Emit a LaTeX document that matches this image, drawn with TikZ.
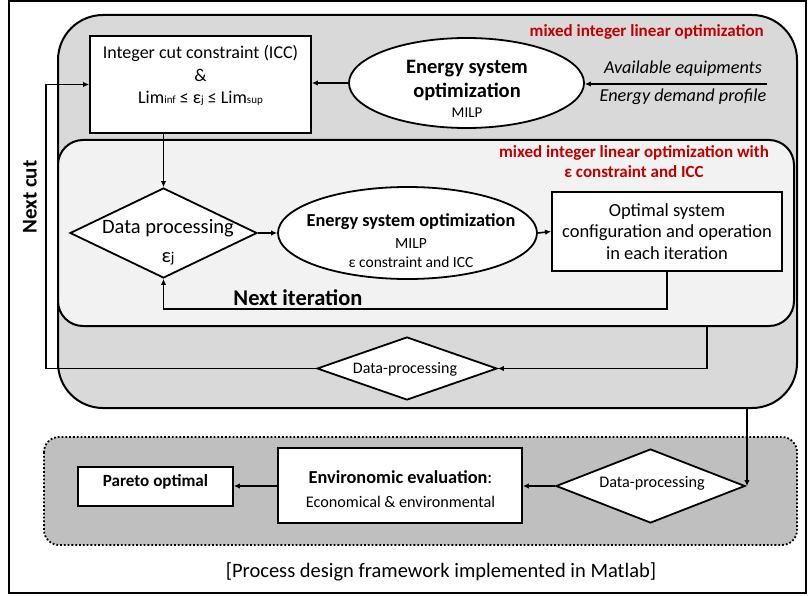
\documentclass[tikz,border=0pt]{standalone}
\usepackage{fontspec}
\setmainfont{Carlito}
\usetikzlibrary{shapes.geometric,arrows.meta}
\definecolor{redt}{HTML}{C00000}
\definecolor{gone}{HTML}{D9D9D9}
\definecolor{gtwo}{HTML}{F2F2F2}
\definecolor{gthree}{HTML}{BFBFBF}
\newcommand{\fs}[2]{\fontsize{#1}{#2}\selectfont}
\begin{document}
\begin{tikzpicture}[x=1pt,y=-1pt,
  frame/.style={line width=2pt},
  wbox/.style={draw, line width=1.8pt, fill=white, inner sep=0pt},
  wdia/.style={diamond, draw, line width=1.8pt, fill=white, inner sep=0pt},
  well/.style={ellipse, draw, line width=1.8pt, fill=white, inner sep=0pt},
  txt/.style={align=center, inner sep=0pt},
  arr/.style={-{Latex[length=6pt,width=5.5pt]}, line width=1.6pt}]
\useasboundingbox (0,0) rectangle (808,596);
\draw[frame] (9,1) rectangle (806,593);
% big containers
\draw[frame, fill=gone, rounded corners=45pt] (58,15) rectangle (797,408);
\draw[frame, fill=gtwo, rounded corners=25pt] (58,140) rectangle (794,326);
\draw[line width=1.8pt, dotted, fill=gthree, rounded corners=15pt] (44,437) rectangle (797,545);
% top level
\node[wbox, minimum width=221pt, minimum height=97pt] (icc) at (200.5,84.5) {};
\node[txt, font=\fs{18}{22.5}] (icct) at (200.5,75.5) {Integer cut constraint (ICC)\\ \&\\ Lim{\fs{11}{13}inf} ≤ ε{\fs{11}{13}j} ≤ Lim{\fs{11}{13}sup}};
\node[well, minimum width=235pt, minimum height=90pt] (e1) at (466.5,83) {};
\node[txt, font=\fs{20.5}{24}\bfseries] (e1t) at (467,80) {Energy system\\ optimization};
\node[txt, font=\fs{15}{18}] (e1m) at (467,113) {MILP};
\coordinate (inp) at (767,84);
\node[txt, font=\fs{18.2}{21}\itshape] (ae) at (683,69) {Available equipments};
\node[txt, font=\fs{18.2}{21}\itshape] (ed) at (683,97) {Energy demand profile};
\draw[arr] (inp) -- (e1.east |- inp);
\draw[arr] (e1.west) -- (icc.east |- e1.west);
\node[txt, font=\fs{17}{20}\bfseries, text=redt, anchor=east] (r1) at (764,32) {mixed integer linear optimization};
\node[txt, font=\fs{17}{20}\bfseries, text=redt] (r2) at (634,162) {mixed integer linear optimization with\\ ε constraint and ICC};
% inner loop
\node[wdia, minimum width=187pt, minimum height=90pt] (d1) at (163.5,233) {};
\node[txt, font=\fs{20.5}{24}] (d1t) at (168,228) {Data processing};
\node[txt, font=\fs{20.5}{24}] (d1e) at (168,259) {ε{\fs{15}{18}j}};
\draw[arr] (d1.north |- icc.south) -- (d1.north);
\node[well, minimum width=259pt, minimum height=92pt] (e2) at (407.5,233) {};
\node[txt, font=\fs{18.3}{21}\bfseries] (e2t) at (411,222) {Energy system optimization};
\node[txt, font=\fs{15.5}{18}] (e2m) at (411,244) {MILP};
\node[txt, font=\fs{15.5}{18}] (e2c) at (411,262) {ε constraint and ICC};
\node[wbox, minimum width=230pt, minimum height=79pt] (opt) at (667,231.5) {};
\node[txt, font=\fs{18.5}{21.5}] (optt) at (667,231.5) {Optimal system\\ configuration and operation\\ in each iteration};
\draw[arr] (d1.east) -- (e2.west);
\draw[arr] (e2.east) -- (opt.west);
\coordinate (it) at (667,309);
\draw[arr] (opt.south) -- (it) -| (d1.south);
\node[txt, font=\fs{22.5}{26}\bfseries] (nit) at (298,297.5) {Next iteration};
% outer loop
\node[wdia, minimum width=180pt, minimum height=63pt] (d2) at (407,368.5) {};
\node[txt, font=\fs{16}{19}] (d2t) at (405,369) {Data-processing};
\coordinate (ib) at (707,326);
\draw[arr] (ib) |- (d2.east);
\coordinate (nc) at (46,368.5);
\draw[arr] (d2.west) -- (nc) |- (icc.west);
\node[txt, font=\fs{21}{24}\bfseries, rotate=90] (ncut) at (30,197) {Next cut};
% bottom
\node[wdia, minimum width=189pt, minimum height=74pt] (d3) at (650.5,486) {};
\node[txt, font=\fs{16.2}{19}] (d3t) at (652,483) {Data-processing};
\node[wbox, minimum width=244pt, minimum height=75pt] (env) at (400,485.5) {};
\node[txt, font=\fs{18.3}{24}] (envt) at (400.5,489) {\textbf{Environomic evaluation}:\\ {\fs{16.2}{19}Economical \& environmental}};
\node[wbox, minimum width=155pt, minimum height=39pt] (par) at (155.5,486.5) {};
\node[txt, font=\fs{17.1}{20}\bfseries] (part) at (155.5,482) {Pareto optimal};
\coordinate (bb) at (747,408);
\draw[arr] (bb) -- (bb |- d3.east);
\draw[arr] (d3.west) -- (env.east |- d3.west);
\draw[arr] (env.west |- d3.west) -- (par.east |- d3.west);
\node[txt, font=\fs{20.5}{24}] (cap) at (441,572) {[Process design framework implemented in Matlab]};
\end{tikzpicture}
\end{document}
